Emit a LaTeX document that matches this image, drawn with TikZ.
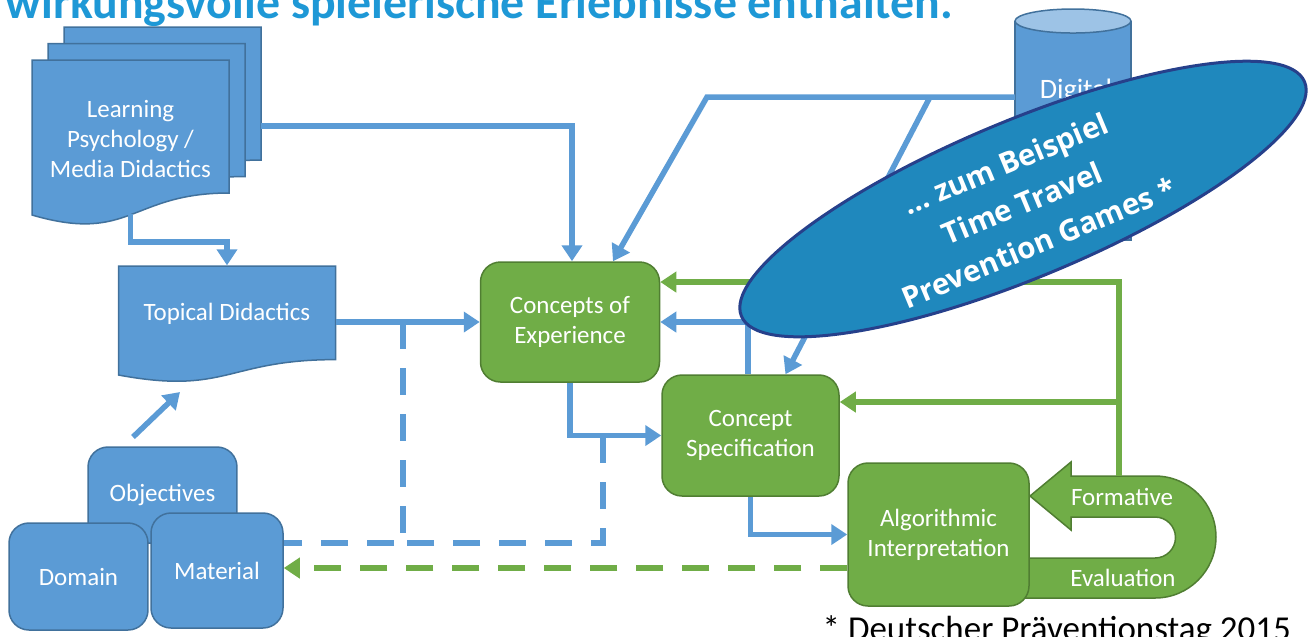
\documentclass[tikz,border=0pt]{standalone}
\usepackage{fontspec}
\setmainfont{Carlito}
\newfontfamily\ovalfont{Open Sans}
\usetikzlibrary{arrows.meta,shapes.geometric}

\definecolor{boxblue}{RGB}{91,155,213}
\definecolor{boxblueline}{RGB}{65,113,156}
\definecolor{cyltop}{RGB}{157,195,230}
\definecolor{boxgreen}{RGB}{112,173,71}
\definecolor{boxgreenline}{RGB}{80,126,50}
\definecolor{titleblue}{RGB}{30,152,214}
\definecolor{ovalblue}{RGB}{31,136,189}
\definecolor{ovalline}{RGB}{38,64,139}

\begin{document}
\begin{tikzpicture}[x=0.1mm, y=-0.1mm,
    every node/.style={font=\fontsize{7.1}{8.5}\selectfont, text=white, align=center},
    bluebox/.style={draw=boxblueline, fill=boxblue, rounded corners=2mm, line width=0.15mm},
    greenbox/.style={draw=boxgreenline, fill=boxgreen, rounded corners=2mm, line width=0.15mm},
    bluearrow/.style={draw=boxblue, line width=0.55mm, -{Triangle[width=2mm,length=1.6mm]}},
    greenarrow/.style={draw=boxgreen, line width=0.55mm, -{Triangle[width=2mm,length=1.6mm]}},
    bluedash/.style={draw=boxblue, line width=0.55mm, dash pattern=on 2.7mm off 1.9mm},
    greendash/.style={draw=boxgreen, line width=0.55mm, dash pattern=on 2.7mm off 1.9mm}]
        \useasboundingbox (0,0) rectangle (1314,636);
        \clip (0,0) rectangle (1314,636);

        % stacked documents and single document
        \foreach \d in {2,1,0}
            \draw[bluebox, rounded corners=0pt, shift={(16*\d,-16.5*\d)}] (32,60) -- (229,60) -- (229,193)
                .. controls (130.5,193) and (130.5,243.8) .. (32,215) -- cycle;
        \node (learn) at (130.5,139) {Learning\\Psychology /\\Media Didactics};
        \coordinate (learnbot) at (130.5,214);
        \coordinate (learnright) at (261,126);

        \draw[bluebox, rounded corners=0pt] (118.5,266) -- (335.5,266) -- (335.5,359.6)
            .. controls (227,359.6) and (227,395.2) .. (118.5,375) -- cycle;
        \node[minimum width=21.7mm, minimum height=9.6mm] (topical) at (227,314) {Topical Didactics};

        % sources at the bottom left
        \node[bluebox, minimum width=14.9mm, minimum height=9.6mm] (objectives) at (162.5,495) {Objectives};
        \node[bluebox, minimum width=13.9mm, minimum height=10.7mm] (domain) at (78.5,576.5) {Domain};
        \node[bluebox, minimum width=13.2mm, minimum height=11.5mm] (material) at (217,570.5) {Material};

        % database
        \draw[draw=boxblueline, fill=boxblue, line width=0.15mm] (1015,21) -- (1015,240) -- (1131,240) -- (1131,21);
        \draw[draw=boxblueline, fill=cyltop, line width=0.15mm] (1073,21) ellipse [x radius=5.8mm, y radius=1.2mm];
        \node[font=\fontsize{8}{9.6}\selectfont] (digital) at (1076,91) {Digital};
        \coordinate (digitalin) at (1015,97);

        % formative evaluation loop
        \draw[draw=boxgreenline, fill=boxgreen, line width=0.15mm]
            (1025,558) -- (1155,558) arc[start angle=-90, end angle=90, radius=2.05mm]
            -- (1071,517) -- (1071,530) -- (1030,496) -- (1071,462) -- (1071,476) -- (1155,476)
            arc[start angle=90, end angle=-90, radius=6.1mm] -- (1025,598) -- cycle;
        \node (formative) at (1122,497) {Formative};
        \node (evaluation) at (1123,578) {Evaluation};

        % design steps
        \node[greenbox, minimum width=17.9mm, minimum height=12mm] (concepts) at (570,322) {Concepts of\\Experience};
        \node[greenbox, minimum width=17.7mm, minimum height=12.1mm] (spec) at (750.5,435.5) {Concept\\Specification};
        \node[greenbox, minimum width=18.1mm, minimum height=14.3mm] (algo) at (938.5,534.5) {Algorithmic\\Interpretation};

        % blue inputs
        \coordinate (topjoin) at (707,97);
        \coordinate (fork) at (930,97);
        \coordinate (dashA) at (403,322);
        \coordinate (dashB) at (603,436);
        \coordinate (objout) at (133,437);
        \coordinate (topicalin) at (180,392);
        \draw[bluearrow] (learnbot) -- ++(0,28) -| (topical.north);
        \draw[bluearrow] (learnright) -| ([xshift=0.2mm]concepts.north);
        \draw[bluearrow] (digitalin) -- (topjoin) -- ([xshift=4.3mm]concepts.north);
        \draw[bluearrow] (fork) -- ([xshift=3.5mm]spec.north);
        \draw[bluearrow] (objout) -- (topicalin);
        \draw[bluearrow] (topical.east |- concepts.west) -- (concepts.west);
        \draw[bluearrow] (concepts.south) |- (spec.west);
        \draw[bluearrow] (spec.south) |- (algo.west);
        \draw[bluearrow] ([xshift=-0.25mm]spec.north) |- (concepts.east);

        % dashed returns
        \draw[bluedash] (dashA) -- (403,543) -- (material.east |- 0,543);
        \draw[bluedash] (dashB) |- (403,543);
        \draw[greendash, -{Triangle[width=2mm,length=1.6mm]}] (algo.west |- 0,568) -- (material.east |- 0,568);

        % green feedback
        \coordinate (fbtop) at (1119,476);
        \coordinate (fbmid) at (1119,402);
        \draw[greenarrow] (fbtop) -- (1119,282) -- (concepts.east |- 0,282);
        \draw[greenarrow] (fbmid) -- (spec.east |- 0,402);

        % example oval
        \node[ellipse, draw=ovalline, line width=0.3mm, fill=ovalblue, rotate=22.6,
            minimum width=61mm, minimum height=15.7mm, inner sep=0pt] (oval) at (1023,199) {};
        \node[rotate=22.6, font=\ovalfont\bfseries\fontsize{8.4}{12.2}\selectfont] (ovaltext) at (1022,203)
            {… zum Beispiel\\Time Travel\\Prevention Games *};

        % title and footnote
        \node[anchor=base west, inner sep=0pt, text=titleblue, font=\bfseries\fontsize{13.6}{16}\selectfont] (title) at (5,18)
            {wirkungsvolle spielerische Erlebnisse enthalten.};
        \node[anchor=base west, inner sep=0pt, text=black, font=\fontsize{9.95}{12}\selectfont] (note) at (822,640)
            {* Deutscher Präventionstag 2015};
    \end{tikzpicture}
\end{document}
